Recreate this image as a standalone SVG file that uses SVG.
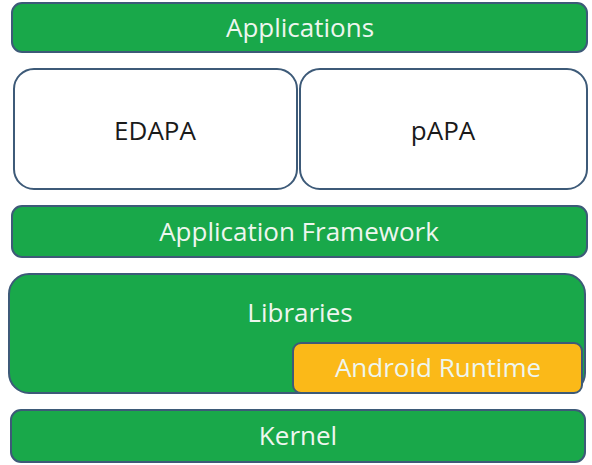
<svg xmlns="http://www.w3.org/2000/svg" width="592" height="465" viewBox="0 0 592 465">
  <style>
    .layer { fill: #19a84a; stroke: #3d5a78; stroke-width: 2; }
    .app { fill: #ffffff; stroke: #3d5a78; stroke-width: 2; }
    .runtime { fill: #fbb918; stroke: #3d5a78; stroke-width: 2; }
    text { font-family: "Open Sans", "Noto Sans", "DejaVu Sans", sans-serif; font-size: 26px; text-anchor: middle; dominant-baseline: central; }
    .light { fill: #eef6ef; }
    .dark { fill: #1a1a1a; }
  </style>
  <rect width="592" height="465" fill="#ffffff"/>
  <g id="applications">
    <rect class="layer" x="12" y="3" width="575" height="49" rx="10"/>
    <text class="light" x="300" y="27">Applications</text>
  </g>
  <g id="edapa">
    <rect class="app" x="14" y="69" width="283" height="120" rx="20"/>
    <text class="dark" x="155" y="130">EDAPA</text>
  </g>
  <g id="papa">
    <rect class="app" x="300" y="69" width="287" height="120" rx="20"/>
    <text class="dark" x="443" y="130">pAPA</text>
  </g>
  <g id="framework">
    <rect class="layer" x="12" y="206" width="575" height="51" rx="10"/>
    <text class="light" x="299" y="231">Application Framework</text>
  </g>
  <g id="libraries">
    <rect class="layer" x="9" y="274" width="576" height="119" rx="20"/>
    <text class="light" x="300" y="312">Libraries</text>
  </g>
  <g id="runtime">
    <rect class="runtime" x="293" y="343" width="289" height="50" rx="8"/>
    <text class="light" x="438" y="367">Android Runtime</text>
  </g>
  <g id="kernel">
    <rect class="layer" x="11" y="410" width="574" height="52" rx="10"/>
    <text class="light" x="298" y="435">Kernel</text>
  </g>
  <g id="connectors"/>
</svg>
